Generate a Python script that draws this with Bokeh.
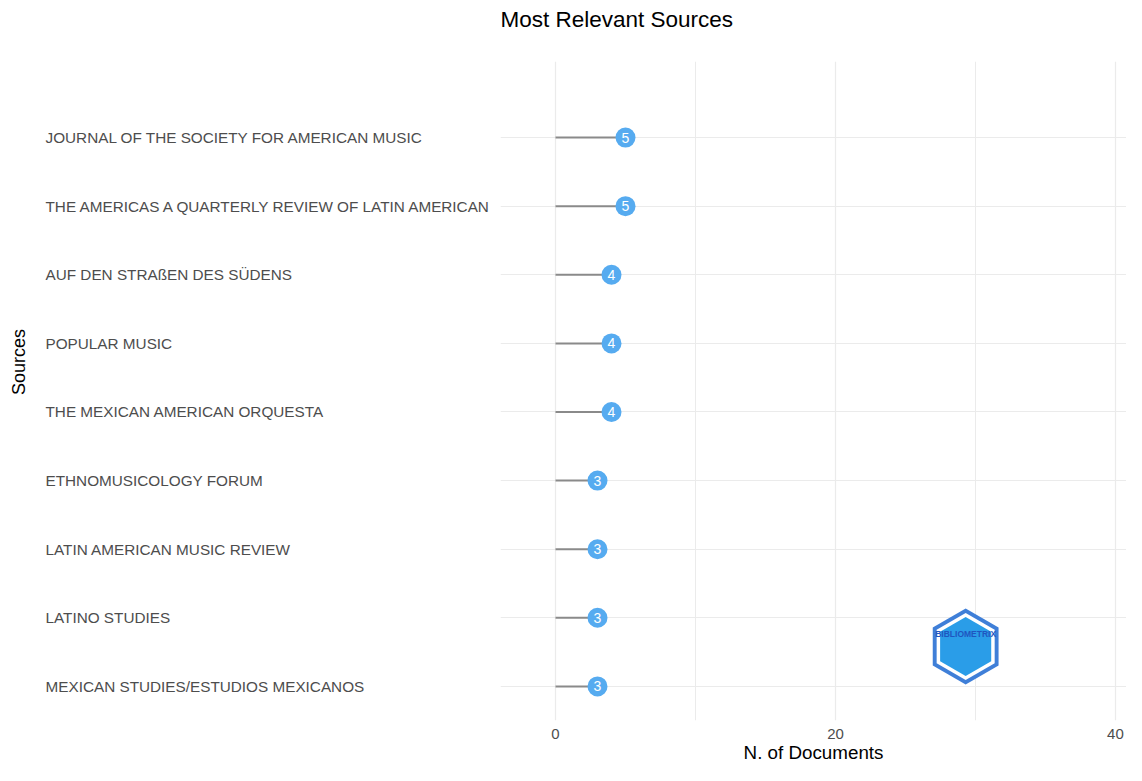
import numpy as np
from bokeh.plotting import figure
from bokeh.layouts import row, column
from bokeh.models import Range1d, FixedTicker, ColumnDataSource
from bokeh.core.properties import value
from bokeh.embed import file_html
from bokeh.resources import INLINE

# ---- data (top to bottom as shown) ----
sources = [
    "JOURNAL OF THE SOCIETY FOR AMERICAN MUSIC",
    "THE AMERICAS A QUARTERLY REVIEW OF LATIN AMERICAN",
    "AUF DEN STRAßEN DES SÜDENS",
    "POPULAR MUSIC",
    "THE MEXICAN AMERICAN ORQUESTA",
    "ETHNOMUSICOLOGY FORUM",
    "LATIN AMERICAN MUSIC REVIEW",
    "LATINO STUDIES",
    "MEXICAN STUDIES/ESTUDIOS MEXICANOS",
]
documents = [5, 5, 4, 4, 4, 3, 3, 3, 3]
x_ticks = [0, 20, 40]
x_minor = [10, 30]

FONT = "Liberation Sans"
W_LEFT, W_RIGHT = 500, 626
HEAD_H = 44
BODY_H = 765 - HEAD_H
TOP = 17
BOTTOM = 42
n = len(sources)
ypos = [n - 1 - i for i in range(n)]

src = ColumnDataSource(dict(
    name=sources,
    docs=documents,
    y=ypos,
    zero=[0] * n,
    lab=[str(d) for d in documents],
))

y_range = Range1d(-0.497, 9.109)
x_range = Range1d(-3.93, 40.79)

# ---------- header with the title ----------
head = figure(
    width=W_LEFT + W_RIGHT, height=HEAD_H, output_backend="svg",
    toolbar_location=None, title="Most Relevant Sources",
    min_border_left=W_LEFT, min_border_right=0,
    min_border_top=0, min_border_bottom=0,
)
head.axis.visible = False
head.grid.visible = False
head.outline_line_color = None
head.title.text_font = FONT
head.title.text_font_size = "22.5px"
head.title.text_font_style = "normal"
head.title.text_color = "#000000"
head.title.align = "left"
head.title.vertical_align = "top"
head.title.standoff = 12

# ---------- left panel: category labels ----------
left = figure(
    width=W_LEFT, height=BODY_H, output_backend="svg", toolbar_location=None,
    x_range=Range1d(0, W_LEFT), y_range=y_range,
    min_border_left=0, min_border_right=0,
    min_border_top=TOP, min_border_bottom=BOTTOM,
)
left.axis.visible = False
left.grid.visible = False
left.outline_line_color = None
left.text(x=45, y="y", text="name", source=src,
          text_font=value(FONT), text_font_size="15.3px", text_color="#4d4d4d",
          text_align="left", text_baseline="middle")
left.text(x=[18], y=[4.73], text=["Sources"], angle=np.pi / 2,
          text_font=value(FONT), text_font_size="18px", text_color="#000000",
          text_align="center", text_baseline="middle")

# ---------- right panel: lollipops ----------
p = figure(
    width=W_RIGHT, height=BODY_H, output_backend="svg", toolbar_location=None,
    x_range=x_range, y_range=y_range,
    min_border_left=0, min_border_right=0,
    min_border_top=TOP, min_border_bottom=BOTTOM,
)
p.outline_line_color = None

p.xaxis.ticker = FixedTicker(ticks=x_ticks, minor_ticks=x_minor)
p.xaxis.axis_line_color = None
p.xaxis.major_tick_line_color = None
p.xaxis.minor_tick_line_color = None
p.xaxis.major_label_text_font = FONT
p.xaxis.major_label_text_font_size = "15px"
p.xaxis.major_label_text_color = "#4d4d4d"
p.xaxis.major_label_standoff = 2
p.xaxis.axis_label = "N. of Documents"
p.xaxis.axis_label_text_font = FONT
p.xaxis.axis_label_text_font_size = "18.8px"
p.xaxis.axis_label_text_font_style = "normal"
p.xaxis.axis_label_text_color = "#000000"
p.xaxis.axis_label_standoff = 0
p.yaxis.visible = False

p.xgrid.ticker = FixedTicker(ticks=x_ticks, minor_ticks=x_minor)
p.xgrid.grid_line_color = "#ebebeb"
p.xgrid.grid_line_width = 1.2
p.xgrid.minor_grid_line_color = "#ebebeb"
p.xgrid.minor_grid_line_width = 1
p.ygrid.ticker = FixedTicker(ticks=ypos)
p.ygrid.grid_line_color = "#ebebeb"
p.ygrid.grid_line_width = 1.2

p.segment(x0="zero", y0="y", x1="docs", y1="y", source=src,
          line_color="#8a8a8a", line_width=2)
p.scatter(x="docs", y="y", source=src, size=20, fill_color="#56abf0",
          line_color=None)
p.text(x="docs", y="y", text="lab", source=src,
       text_font=value(FONT), text_font_size="14px", text_color="white",
       text_align="center", text_baseline="middle")

# bibliometrix logo (decorative)
lx, ly = 29.3, 0.58
p.scatter(x=[lx], y=[ly], marker="hex", size=76, angle=np.pi / 2,
          fill_color="#3f7fd8", line_color=None)
p.scatter(x=[lx], y=[ly], marker="hex", size=67, angle=np.pi / 2,
          fill_color="white", line_color=None)
p.scatter(x=[lx], y=[ly], marker="hex", size=59, angle=np.pi / 2,
          fill_color="#2a9de8", line_color=None)
p.text(x=[lx], y=[ly + 0.18], text=["BIBLIOMETRIX"],
       text_font=value(FONT), text_font_size="8.5px", text_font_style="bold",
       text_color="#1f56c0", text_align="center", text_baseline="middle")

layout = column(head, row(left, p))
open("out.html", "w").write(file_html(layout, INLINE))
